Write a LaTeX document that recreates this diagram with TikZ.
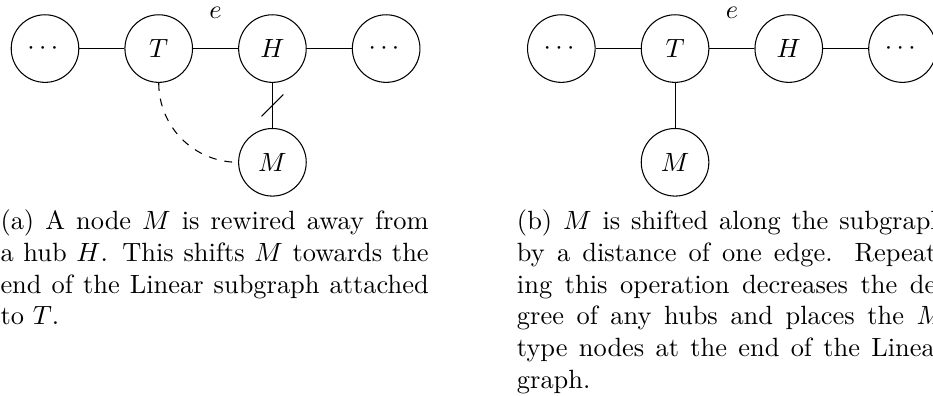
\documentclass[tikz,border=0pt]{standalone}
\usepackage{amsmath,amssymb}
\usetikzlibrary{positioning}
\begin{document}
\begin{tikzpicture}[node distance=6mm,vtx/.style={draw,circle,minimum size=9mm,inner sep=0pt},captxt/.style={anchor=north west,text width=162.2pt,align=justify,inner sep=0pt}]
\useasboundingbox(-17.05pt,-131.6pt)rectangle(336.4pt,18.4pt);
% (a) M is rewired away from the hub
\node[vtx](la){$\cdots$};
\node[vtx,right=of la](ta){$T$};
\node[vtx,right=of ta](ha){$H$};
\node[vtx,right=of ha](ra){$\cdots$};
\node[vtx,below=of ha](ma){$M$};
\draw(la)--(ta);\draw(ta)--node[above=2.8mm]{$e$}(ha);\draw(ha)--(ra);
\draw(ha)--coordinate[midway](cut)(ma);
\draw([shift={(-1.45mm,-1.45mm)}]cut)--([shift={(1.45mm,1.45mm)}]cut);
\draw[dashed](ta.south)to[out=-90,in=180](ma.west);
\node[captxt](capa)at(-17.05pt,-60.9pt){(a) A node $M$ is rewired away from a hub $H$. This shifts $M$ towards the end of the Linear subgraph attached to $T$.};
% (b) M now hangs off T
\node[vtx](lb)at(195.6pt,0pt){$\cdots$};
\node[vtx,right=of lb](tb){$T$};
\node[vtx,right=of tb](hb){$H$};
\node[vtx,right=of hb](rb){$\cdots$};
\node[vtx,below=of tb](mb){$M$};
\draw(lb)--(tb);\draw(tb)--node[above=2.8mm]{$e$}(hb);\draw(hb)--(rb);\draw(tb)--(mb);
\node[captxt](capb)at(178.6pt,-60.9pt){(b) $M$ is shifted along the subgraph by a distance of one edge. Repeating this operation decreases the degree of any hubs and places the $M$ type nodes at the end of the Linear graph.};
\end{tikzpicture}
\end{document}
